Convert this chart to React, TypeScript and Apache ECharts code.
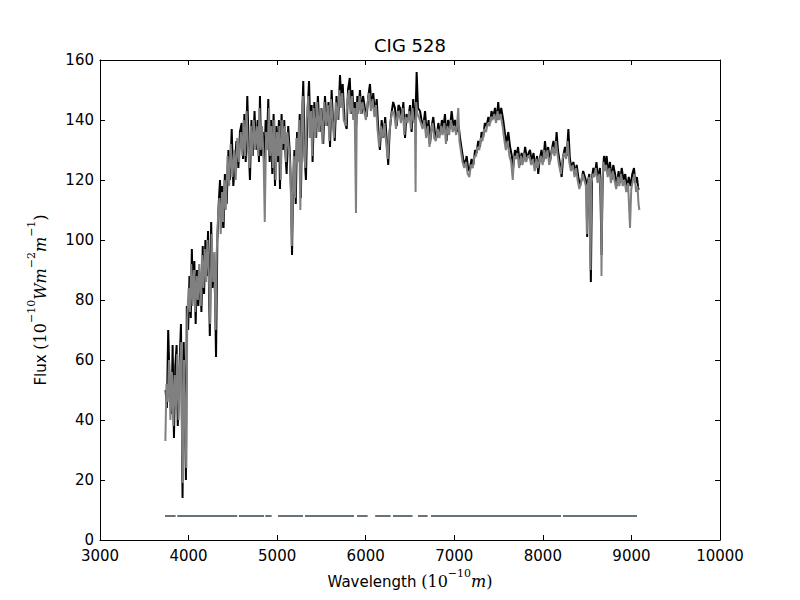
import React, { useEffect, useRef } from "react";
import * as echarts from "echarts";

// Observed spectrum (black): [wavelength (Å), flux]
const observedSpectrum: [number, number][] = [
  [3740, 50], [3755, 44], [3770, 70], [3790, 48], [3808, 42], [3820, 65], [3835, 34], [3850, 58],
  [3865, 65], [3878, 38], [3895, 55], [3914, 72], [3932, 14], [3945, 66], [3958, 45], [3970, 20],
  [3980, 78], [3995, 70], [4010, 88], [4025, 74], [4037, 97], [4050, 80], [4065, 93], [4080, 72],
  [4095, 90], [4110, 78], [4130, 88], [4145, 76], [4160, 98], [4175, 82], [4190, 100], [4205, 88],
  [4220, 103], [4240, 68], [4255, 106], [4270, 84], [4285, 95], [4300, 80], [4310, 61], [4325, 100],
  [4340, 112], [4355, 120], [4370, 104], [4380, 118], [4395, 104], [4410, 122], [4430, 112], [4450, 130],
  [4468, 120], [4487, 137], [4505, 118], [4524, 126], [4540, 133], [4562, 124], [4580, 136], [4600, 139],
  [4615, 127], [4630, 142], [4645, 126], [4663, 148], [4680, 130], [4693, 120], [4710, 140], [4725, 128],
  [4745, 143], [4760, 130], [4780, 140], [4795, 126], [4806, 148], [4820, 128], [4840, 136], [4855, 124],
  [4870, 140], [4885, 132], [4900, 147], [4915, 126], [4930, 140], [4945, 122], [4960, 142], [4976, 118],
  [4990, 138], [5005, 126], [5020, 140], [5032, 117], [5050, 142], [5065, 130], [5080, 140], [5095, 128],
  [5107, 122], [5125, 138], [5145, 128], [5160, 112], [5168, 95], [5180, 118], [5195, 130], [5210, 112],
  [5225, 136], [5240, 128], [5255, 142], [5268, 114], [5282, 140], [5295, 153], [5310, 128], [5325, 120],
  [5340, 140], [5360, 153], [5375, 136], [5390, 145], [5400, 126], [5420, 146], [5440, 134], [5460, 148],
  [5480, 136], [5500, 144], [5520, 132], [5540, 148], [5560, 138], [5580, 146], [5597, 131], [5615, 150],
  [5630, 140], [5650, 133], [5670, 148], [5690, 140], [5710, 155], [5725, 146], [5740, 152], [5760, 140],
  [5785, 137], [5800, 150], [5820, 154], [5835, 142], [5850, 150], [5865, 140], [5880, 146], [5893, 138],
  [5905, 148], [5920, 144], [5935, 150], [5953, 142], [5970, 148], [5990, 144], [6010, 141], [6030, 148],
  [6048, 152], [6065, 144], [6085, 149], [6105, 142], [6124, 147], [6140, 138], [6160, 130], [6180, 140],
  [6200, 134], [6220, 141], [6240, 132], [6254, 125], [6270, 136], [6290, 142], [6310, 146], [6330, 144],
  [6350, 138], [6370, 145], [6387, 144], [6405, 140], [6425, 146], [6444, 134], [6460, 142], [6480, 140],
  [6500, 145], [6518, 136], [6536, 147], [6550, 140], [6563, 142], [6575, 156], [6590, 144], [6613, 143],
  [6630, 140], [6650, 138], [6670, 143], [6690, 135], [6710, 140], [6726, 132], [6745, 138], [6763, 141],
  [6780, 136], [6800, 134], [6820, 139], [6840, 135], [6860, 140], [6875, 137], [6895, 142], [6913, 133],
  [6930, 140], [6950, 137], [6970, 143], [6990, 138], [7010, 140], [7030, 136], [7050, 138], [7065, 134],
  [7085, 130], [7100, 127], [7120, 125], [7140, 128], [7160, 123], [7177, 124], [7195, 127], [7215, 125],
  [7235, 130], [7252, 129], [7270, 133], [7290, 131], [7308, 136], [7325, 134], [7345, 139], [7365, 138],
  [7385, 141], [7405, 139], [7420, 143], [7440, 141], [7460, 144], [7480, 140], [7496, 146], [7510, 141],
  [7530, 144], [7552, 140], [7570, 136], [7590, 132], [7610, 136], [7630, 131], [7650, 128], [7665, 124],
  [7685, 130], [7703, 128], [7720, 131], [7740, 125], [7760, 129], [7778, 126], [7800, 131], [7820, 127],
  [7840, 129], [7855, 130], [7875, 126], [7895, 129], [7915, 124], [7935, 128], [7948, 122], [7965, 127],
  [7985, 130], [8005, 126], [8024, 133], [8040, 128], [8060, 131], [8080, 126], [8100, 130], [8120, 133],
  [8140, 129], [8155, 136], [8170, 130], [8190, 126], [8212, 121], [8230, 128], [8250, 131], [8270, 128],
  [8288, 137], [8305, 127], [8325, 124], [8345, 126], [8365, 122], [8382, 125], [8400, 121], [8420, 118],
  [8437, 120], [8455, 123], [8475, 121], [8494, 119], [8500, 101], [8510, 120], [8525, 122], [8542, 86],
  [8555, 121], [8570, 124], [8588, 122], [8605, 126], [8625, 120], [8645, 124], [8663, 95], [8675, 120],
  [8690, 128], [8705, 125], [8720, 128], [8740, 122], [8758, 126], [8775, 120], [8795, 125], [8815, 122],
  [8835, 118], [8855, 123], [8871, 119], [8890, 124], [8910, 120], [8930, 122], [8950, 117], [8970, 121],
  [8990, 118], [9010, 122], [9029, 124], [9045, 119], [9062, 121], [9078, 117], [9090, 117],
];

// Model / comparison spectrum (gray): [wavelength (Å), flux]
const modelSpectrum: [number, number][] = [
  [3738, 33], [3750, 52], [3765, 46], [3780, 60], [3795, 40], [3812, 56], [3828, 38], [3842, 55],
  [3858, 44], [3872, 62], [3888, 40], [3902, 58], [3918, 66], [3928, 30], [3936, 19], [3948, 60],
  [3962, 40], [3975, 24], [3985, 74], [4000, 84], [4015, 76], [4030, 92], [4045, 78], [4060, 90],
  [4075, 76], [4090, 88], [4105, 80], [4120, 92], [4138, 78], [4152, 95], [4168, 84], [4183, 97],
  [4198, 86], [4213, 100], [4228, 90], [4245, 72], [4260, 102], [4278, 86], [4292, 96], [4305, 70],
  [4318, 96], [4333, 108], [4348, 114], [4363, 102], [4378, 116], [4390, 106], [4405, 120], [4420, 110],
  [4440, 128], [4458, 118], [4475, 132], [4495, 121], [4515, 130], [4532, 120], [4550, 134], [4570, 126],
  [4590, 136], [4608, 128], [4622, 140], [4638, 128], [4655, 143], [4672, 130], [4688, 124], [4703, 138],
  [4718, 128], [4736, 140], [4752, 130], [4770, 138], [4788, 128], [4800, 144], [4815, 130], [4830, 138],
  [4848, 126], [4860, 106], [4875, 136], [4892, 130], [4908, 144], [4922, 128], [4938, 138], [4952, 124],
  [4968, 140], [4983, 120], [4998, 136], [5012, 128], [5026, 138], [5040, 120], [5058, 140], [5072, 132],
  [5088, 138], [5100, 126], [5115, 136], [5135, 130], [5152, 122], [5165, 98], [5175, 112], [5188, 128],
  [5203, 114], [5218, 134], [5233, 126], [5248, 140], [5262, 110], [5275, 136], [5290, 148], [5303, 130],
  [5318, 124], [5333, 140], [5352, 148], [5368, 134], [5383, 143], [5395, 128], [5412, 144], [5432, 134],
  [5452, 146], [5472, 136], [5492, 144], [5512, 132], [5532, 146], [5552, 138], [5572, 145], [5590, 133],
  [5608, 147], [5625, 140], [5642, 134], [5662, 146], [5682, 140], [5702, 150], [5718, 144], [5735, 149],
  [5752, 140], [5775, 138], [5795, 147], [5812, 150], [5828, 142], [5845, 148], [5860, 140], [5875, 144],
  [5890, 109], [5900, 146], [5915, 142], [5930, 148], [5946, 142], [5963, 146], [5982, 143], [6002, 140],
  [6022, 146], [6040, 149], [6058, 143], [6078, 147], [6098, 141], [6116, 145], [6133, 137], [6152, 131],
  [6172, 138], [6192, 134], [6212, 139], [6232, 132], [6248, 127], [6262, 134], [6282, 140], [6302, 143],
  [6322, 142], [6342, 137], [6362, 143], [6380, 142], [6398, 139], [6418, 144], [6436, 135], [6452, 141],
  [6472, 139], [6492, 143], [6510, 137], [6528, 144], [6545, 139], [6556, 140], [6563, 116], [6570, 146],
  [6583, 142], [6600, 141], [6622, 139], [6642, 137], [6662, 140], [6682, 134], [6702, 138], [6720, 131],
  [6738, 136], [6756, 139], [6772, 134], [6792, 133], [6812, 137], [6832, 134], [6852, 138], [6868, 135],
  [6888, 139], [6906, 132], [6922, 138], [6942, 135], [6962, 140], [6982, 136], [7002, 138], [7022, 135],
  [7045, 144], [7058, 133], [7078, 129], [7093, 126], [7112, 124], [7132, 126], [7152, 122], [7170, 121],
  [7188, 125], [7208, 124], [7228, 128], [7245, 128], [7262, 131], [7282, 130], [7300, 134], [7318, 133],
  [7338, 137], [7358, 136], [7378, 139], [7398, 138], [7413, 141], [7432, 140], [7452, 142], [7472, 139],
  [7488, 143], [7503, 140], [7522, 142], [7545, 138], [7562, 134], [7582, 130], [7602, 133], [7622, 128],
  [7642, 126], [7660, 120], [7675, 128], [7695, 127], [7712, 129], [7732, 124], [7752, 128], [7770, 125],
  [7792, 129], [7812, 126], [7832, 128], [7848, 128], [7868, 125], [7888, 127], [7908, 123], [7928, 127],
  [7942, 124], [7958, 126], [7978, 128], [7998, 125], [8016, 130], [8033, 127], [8052, 130], [8072, 125],
  [8092, 128], [8112, 131], [8132, 128], [8148, 133], [8163, 129], [8182, 125], [8204, 122], [8222, 127],
  [8242, 129], [8262, 127], [8280, 133], [8298, 126], [8318, 123], [8338, 125], [8358, 121], [8375, 124],
  [8392, 120], [8412, 117], [8430, 119], [8448, 122], [8468, 120], [8486, 118], [8497, 102], [8506, 118],
  [8520, 121], [8538, 90], [8548, 119], [8564, 122], [8580, 121], [8598, 124], [8618, 119], [8638, 122],
  [8656, 117], [8662, 88], [8670, 118], [8684, 126], [8698, 123], [8714, 125], [8732, 121], [8752, 124],
  [8768, 119], [8788, 123], [8808, 120], [8828, 117], [8848, 121], [8864, 118], [8882, 122], [8902, 118],
  [8922, 120], [8942, 116], [8962, 119], [8984, 104], [8998, 117], [9018, 120], [9035, 122], [9052, 116],
  [9068, 118], [9080, 112], [9090, 110],
];

// Good-pixel mask segments drawn at constant flux level
const maskLevel = 8;
const maskSegments: [number, number][] = [
  [3734, 3854], [3873, 4549], [4568, 4852], [4866, 4938], [5010, 5292], [5315, 5868],
  [5902, 6022], [6107, 6281], [6308, 6529], [6590, 6699], [6737, 8205], [8227, 9063],
];

const xTicks = { min: 3000, max: 10000, interval: 1000 };
const yTicks = { min: 0, max: 160, interval: 20 };

export default function App() {
  const ref = useRef<HTMLDivElement>(null);
  useEffect(() => {
    if (!ref.current) return;
    const chart = echarts.init(ref.current, null, { renderer: "svg" });
    const maskData: any[] = [];
    maskSegments.forEach(([a, b], i) => {
      if (i > 0) maskData.push([a - 1, "-"]);
      maskData.push([a, maskLevel], [b, maskLevel]);
    });
    const font = "DejaVu Sans";
    const serif = "DejaVu Serif";
    const tickLabel = {
      color: "#000",
      fontSize: 15,
      fontFamily: font,
      formatter: (v: number) => String(v),
    };
    const richName = {
      t: { fontSize: 15, fontFamily: font, color: "#000", lineHeight: 22, verticalAlign: "bottom" },
      m: { fontSize: 16, fontFamily: serif, color: "#000", lineHeight: 22, verticalAlign: "bottom" },
      i: { fontSize: 16, fontFamily: serif, fontStyle: "italic", color: "#000", lineHeight: 22, verticalAlign: "bottom" },
      s: { fontSize: 11, fontFamily: serif, color: "#000", lineHeight: 10, verticalAlign: "top" },
    };
    chart.setOption({
      animation: false,
      backgroundColor: "#fff",
      title: {
        text: "CIG 528",
        left: 410,
        top: 36,
        padding: 0,
        textAlign: "center",
        textStyle: { fontSize: 18, fontWeight: "normal", fontFamily: font, color: "#000" },
      },
      grid: { left: 100, right: 80, top: 60, bottom: 60, containLabel: false, show: false },
      xAxis: [
        {
          type: "value",
          ...xTicks,
          position: "bottom",
          axisLine: { show: true, onZero: false, lineStyle: { color: "#000", width: 1 } },
          axisTick: { show: true, inside: true, length: 5, lineStyle: { color: "#000" } },
          axisLabel: { ...tickLabel, margin: 8 },
          splitLine: { show: false },
          name: "{t|Wavelength }{m|(10}{s|−10}{i|m}{m|)}",
          nameLocation: "middle",
          nameGap: 25,
          nameTextStyle: { rich: richName },
        },
        {
          type: "value",
          ...xTicks,
          position: "top",
          axisLine: { show: true, onZero: false, lineStyle: { color: "#000", width: 1 } },
          axisTick: { show: true, inside: true, length: 5, lineStyle: { color: "#000" } },
          axisLabel: { show: false },
          splitLine: { show: false },
        },
      ],
      yAxis: [
        {
          type: "value",
          ...yTicks,
          position: "left",
          axisLine: { show: true, onZero: false, lineStyle: { color: "#000", width: 1 } },
          axisTick: { show: true, inside: true, length: 5, lineStyle: { color: "#000" } },
          axisLabel: { ...tickLabel, margin: 6 },
          splitLine: { show: false },
          name: "{t|Flux }{m|(10}{s|−10}{i|Wm}{s|−2}{i|m}{s|−1}{m|)}",
          nameLocation: "middle",
          nameRotate: 90,
          nameGap: 52,
          nameTextStyle: { rich: richName },
        },
        {
          type: "value",
          ...yTicks,
          position: "right",
          axisLine: { show: true, onZero: false, lineStyle: { color: "#000", width: 1 } },
          axisTick: { show: true, inside: true, length: 5, lineStyle: { color: "#000" } },
          axisLabel: { show: false },
          splitLine: { show: false },
        },
      ],
      series: [
        {
          type: "line",
          data: observedSpectrum,
          showSymbol: false,
          symbol: "none",
          lineStyle: { color: "#000000", width: 2 },
          z: 2,
        },
        {
          type: "line",
          data: modelSpectrum,
          showSymbol: false,
          symbol: "none",
          lineStyle: { color: "#808080", width: 2 },
          z: 3,
        },
        {
          type: "line",
          data: maskData,
          showSymbol: false,
          symbol: "none",
          connectNulls: false,
          lineStyle: { color: "#66737a", width: 2 },
          z: 4,
        },
      ],
    });
    return () => chart.dispose();
  }, []);
  return (
    <div
      ref={ref}
      style={{ position: "fixed", left: 0, top: 0, width: 800, height: 600, background: "#fff" }}
    />
  );
}
